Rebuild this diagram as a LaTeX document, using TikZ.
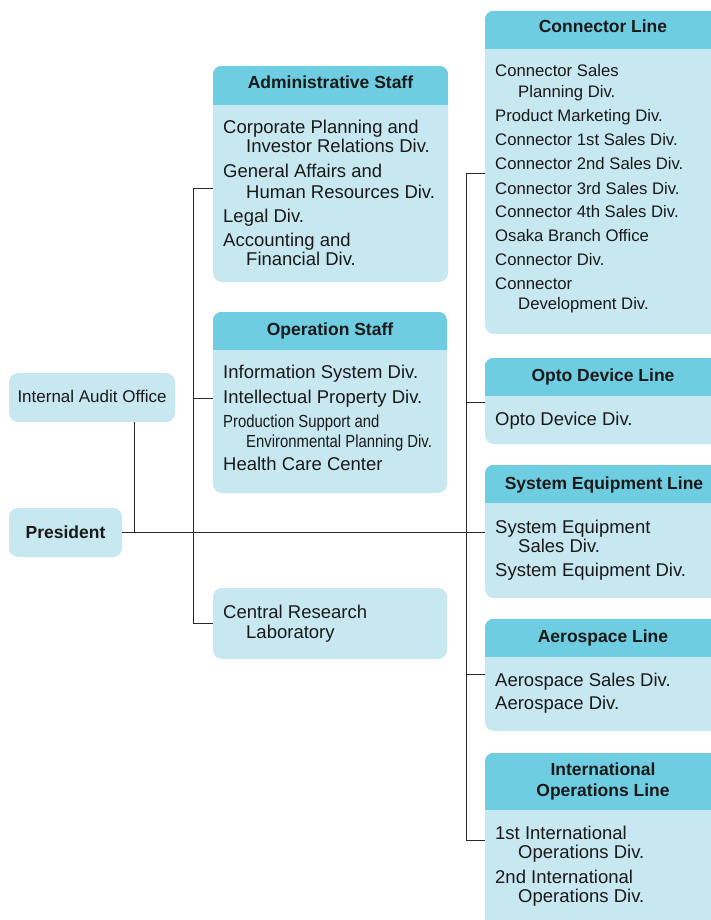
\documentclass[tikz,border=0pt]{standalone}
\usepackage{fontspec}
\setmainfont{Liberation Sans}
\newfontfamily\narrowfont[FakeStretch=0.85]{Liberation Sans}
\usetikzlibrary{fit}
\definecolor{headc}{RGB}{110,205,225}
\definecolor{bodyc}{RGB}{200,232,241}
\definecolor{linec}{RGB}{40,40,40}
\definecolor{txtc}{RGB}{25,25,25}
\tikzset{
  box/.style={fill=bodyc, rounded corners=9pt, inner sep=0pt, draw=none},
  txt/.style={anchor=base west, inner sep=0pt, text=txtc, font=\fontsize{18.5}{20}\selectfont},
  txts/.style={txt, font=\fontsize{16.7}{20}\selectfont},
  txtn/.style={txt, font=\narrowfont\fontsize{17.5}{20}\selectfont},
  txtc/.style={anchor=base, inner sep=0pt, text=txtc, font=\fontsize{17}{20}\selectfont},
  hd/.style={anchor=base, inner sep=0pt, text=txtc, font=\bfseries\fontsize{17.5}{20}\selectfont},
  wire/.style={draw=linec, line width=0.9pt},
}
\newcommand\mkbox[5]{\node[box, fit={(#2,#3) (#4,#5)}] (#1) {};}
\newcommand\mkhead[2]{\begin{scope}\clip[rounded corners=9pt] (#1.north west) rectangle (#1.south east);
  \fill[headc] (#1.north west) rectangle (#1.east |- 0,#2);\end{scope}}
\newcommand\tline[5]{\node[#1] (#2) at (#3,#4) {#5};}
\begin{document}
\begin{tikzpicture}[x=1pt,y=-1pt]
\useasboundingbox (0,0) rectangle (711,920);
\clip (0,0) rectangle (711,920);
% boxes
\mkbox{audit}{9}{373}{175}{422}
\mkbox{pres}{9}{508}{122}{557}
\mkbox{admin}{213}{66}{448}{282}
\mkbox{oper}{213}{312}{447}{493}
\mkbox{central}{213}{588}{447}{659}
\mkbox{cline}{485}{11}{721}{334}
\mkbox{opto}{485}{358}{721}{444}
\mkbox{syseq}{485}{465}{721}{598}
\mkbox{aero}{485}{619}{721}{731}
\mkbox{intl}{485}{753}{721}{940}
\mkhead{admin}{105}
\mkhead{oper}{350}
\mkhead{cline}{49}
\mkhead{opto}{396}
\mkhead{syseq}{503}
\mkhead{aero}{657}
\mkhead{intl}{810}
% connectors
\coordinate (LT) at (193,188);
\coordinate (LM) at (193,398);
\coordinate (LB) at (193,623);
\coordinate (RT) at (466,173);
\coordinate (RO) at (466,402);
\coordinate (RA) at (466,674);
\coordinate (RB) at (466,840);
\draw[wire] ([xshift=-41pt]audit.south east) -- ([xshift=-41pt]audit.south east |- pres.east);
\draw[wire] (pres.east) -- (pres.east -| syseq.west);
\draw[wire] (admin.west |- LT) -- (LT) -- (LB) -- (central.west |- LB);
\draw[wire] (LM) -- (oper.west |- LM);
\draw[wire] (cline.west |- RT) -- (RT) -- (RB) -- (intl.west |- RB);
\draw[wire] (RO) -- (opto.west |- RO);
\draw[wire] (RA) -- (aero.west |- RA);
% left texts
\tline{txtc}{tAudit}{92}{402}{Internal Audit Office}
\tline{hd}{tPres}{65.5}{538}{President}
% admin
\tline{hd}{hAdmin}{330.5}{89}{Administrative Staff}
\tline{txt}{a1}{223}{134}{Corporate Planning and}
\tline{txt}{a2}{246}{153}{Investor Relations Div.}
\tline{txt}{a3}{223}{178}{General Affairs and}
\tline{txt}{a4}{246}{198}{Human Resources Div.}
\tline{txt}{a5}{223}{222}{Legal Div.}
\tline{txt}{a6}{223}{246}{Accounting and}
\tline{txt}{a7}{246}{265}{Financial Div.}
% operation
\tline{hd}{hOper}{330}{335}{Operation Staff}
\tline{txt}{o1}{223}{378}{Information System Div.}
\tline{txt}{o2}{223}{403}{Intellectual Property Div.}
\tline{txtn}{o3}{223}{427}{Production Support and}
\tline{txtn}{o4}{246}{447}{Environmental Planning Div.}
\tline{txt}{o5}{223}{470}{Health Care Center}
% central
\tline{txt}{c1}{223}{618}{Central Research}
\tline{txt}{c2}{246}{638}{Laboratory}
% connector line
\tline{hd}{hConn}{603}{33}{Connector Line}
\tline{txts}{k1}{495}{77}{Connector Sales}
\tline{txts}{k2}{518}{98}{Planning Div.}
\tline{txts}{k3}{495}{122}{Product Marketing Div.}
\tline{txts}{k4}{495}{146}{Connector 1st Sales Div.}
\tline{txts}{k5}{495}{170}{Connector 2nd Sales Div.}
\tline{txts}{k6}{495}{194}{Connector 3rd Sales Div.}
\tline{txts}{k7}{495}{217}{Connector 4th Sales Div.}
\tline{txts}{k8}{495}{241}{Osaka Branch Office}
\tline{txts}{k9}{495}{265}{Connector Div.}
\tline{txts}{k10}{495}{289}{Connector}
\tline{txts}{k11}{518}{309}{Development Div.}
% opto
\tline{hd}{hOpto}{603}{381}{Opto Device Line}
\tline{txt}{p1}{495}{425}{Opto Device Div.}
% system equipment
\tline{hd}{hSys}{604}{489}{System Equipment Line}
\tline{txt}{s1}{495}{533}{System Equipment}
\tline{txt}{s2}{518}{552}{Sales Div.}
\tline{txt}{s3}{495}{576}{System Equipment Div.}
% aerospace
\tline{hd}{hAero}{603}{642}{Aerospace Line}
\tline{txt}{e1}{495}{686}{Aerospace Sales Div.}
\tline{txt}{e2}{495}{709}{Aerospace Div.}
% international
\tline{hd}{hIntl1}{603}{775}{International}
\tline{hd}{hIntl2}{603}{796}{Operations Line}
\tline{txt}{i1}{495}{839}{1st International}
\tline{txt}{i2}{518}{858}{Operations Div.}
\tline{txt}{i3}{495}{883}{2nd International}
\tline{txt}{i4}{518}{902}{Operations Div.}
\end{tikzpicture}
\end{document}
